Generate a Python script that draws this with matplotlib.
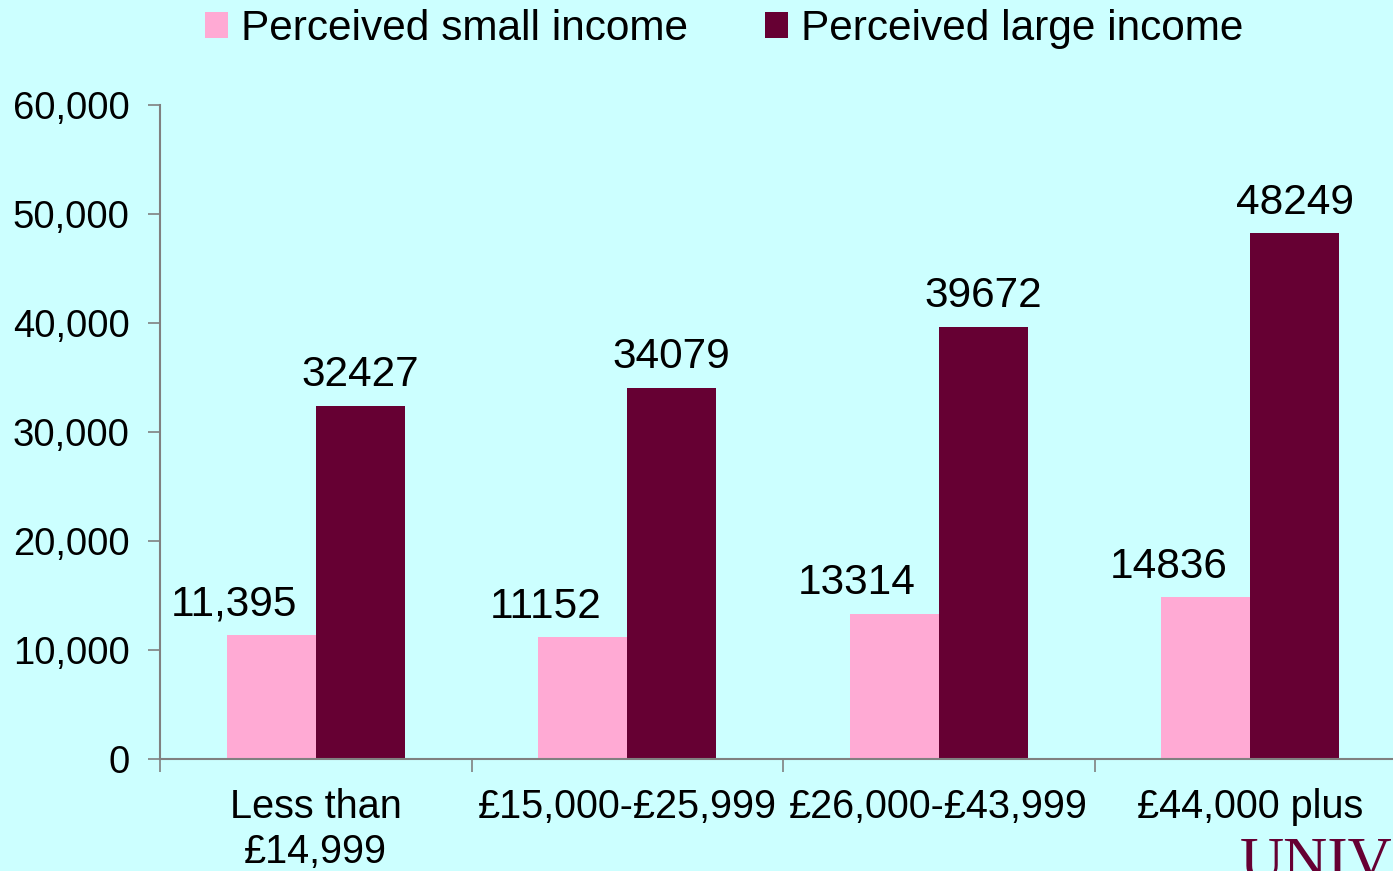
import matplotlib
matplotlib.use('Agg')
import matplotlib.pyplot as plt
import numpy as np

categories = ['Less than\n£14,999', '£15,000-£25,999', '£26,000-£43,999', '£44,000 plus']
small_income = [11395, 11152, 13314, 14836]
large_income = [32427, 34079, 39672, 48249]
small_labels = ['11,395', '11152', '13314', '14836']
large_labels = ['32427', '34079', '39672', '48249']
y_ticks = [0, 10000, 20000, 30000, 40000, 50000, 60000]

plt.rcParams['font.family'] = ['Liberation Sans', 'DejaVu Sans']

bg = '#CCFFFF'
pink = '#FFAAD4'
maroon = '#660033'
grey = '#808080'

fig = plt.figure(figsize=(13.93, 8.71), dpi=100, facecolor=bg)
ax = fig.add_axes([160 / 1393, 112 / 871, 1246 / 1393, 654 / 871])
ax.set_facecolor(bg)

x = np.arange(len(categories))
w = 0.286
b1 = ax.bar(x - w / 2, small_income, w, color=pink, label='Perceived small income')
b2 = ax.bar(x + w / 2, large_income, w, color=maroon, label='Perceived large income')

# data labels
for rect, lab in zip(b1, small_labels):
    ax.annotate(lab, (rect.get_x() + rect.get_width() / 2, rect.get_height()),
                xytext=(-27, 14), textcoords='offset points',
                ha='center', va='baseline', fontsize=30.5)
for rect, lab in zip(b2, large_labels):
    ax.annotate(lab, (rect.get_x() + rect.get_width() / 2, rect.get_height()),
                xytext=(0, 14), textcoords='offset points',
                ha='center', va='baseline', fontsize=30.5)

ax.set_xlim(-0.5, len(categories) - 0.5)
ax.set_ylim(0, 60000)
ax.set_yticks(y_ticks)
ax.set_yticklabels(['{:,}'.format(v) for v in y_ticks])

# boundary ticks on x, labels at category centres
ax.set_xticks(np.arange(len(categories) + 1) - 0.5)
ax.set_xticklabels([])
ax.set_xticks(x, minor=True)
ax.set_xticklabels(categories, minor=True, fontsize=28.5, linespacing=1.22)
ax.tick_params(axis='x', which='major', length=9, width=1.2, color=grey, direction='out')
ax.tick_params(axis='x', which='minor', length=0, pad=21)
ax.tick_params(axis='y', length=9, width=1.2, color=grey, labelsize=27.5, pad=13)

for s in ['top', 'right']:
    ax.spines[s].set_visible(False)
for s in ['left', 'bottom']:
    ax.spines[s].set_color(grey)
    ax.spines[s].set_linewidth(1.5)

fig.legend(handles=[b1, b2], loc='center', bbox_to_anchor=(724 / 1393, 1 - 29 / 871),
           ncol=2, frameon=False, fontsize=30.5, handlelength=0.55, handleheight=0.55,
           handletextpad=0.3, columnspacing=1.83)

# partially visible logo text at bottom right
fig.text(1240 / 1393, -8 / 871, 'UNIVERSITY', color=maroon, fontsize=44,
         family='Liberation Serif', ha='left', va='baseline')

fig.savefig('out.png', dpi=100, facecolor=bg)
